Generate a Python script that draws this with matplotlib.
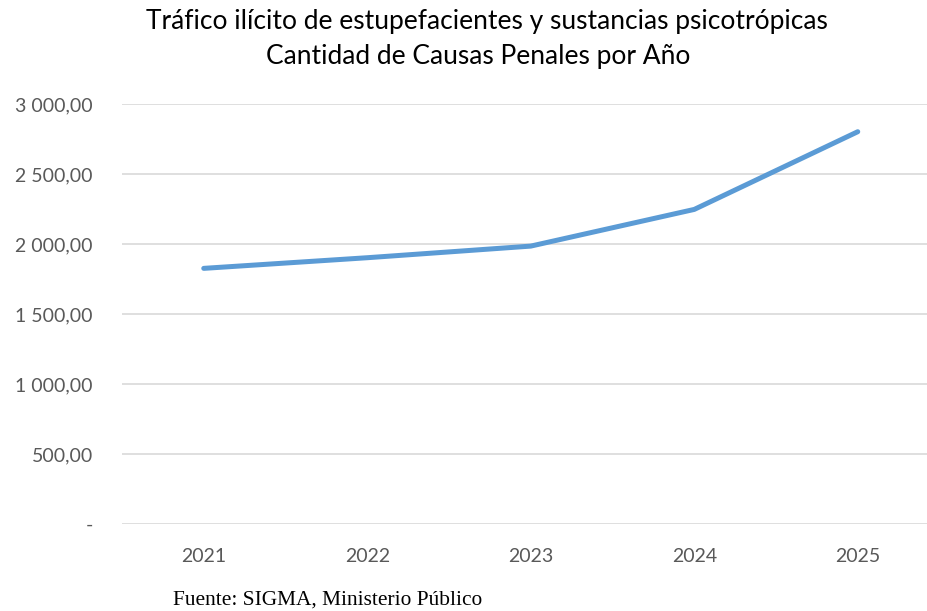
import matplotlib.pyplot as plt
from matplotlib.ticker import FuncFormatter

years = ["2021", "2022", "2023", "2024", "2025"]
causas = [1826, 1902, 1985, 2247, 2802]
y_ticks = [0, 500, 1000, 1500, 2000, 2500, 3000]

plt.rcParams['font.family'] = ['Lato', 'DejaVu Sans']

fig = plt.figure(figsize=(9.28, 6.11), dpi=100)
ax = fig.add_axes([122 / 928, 87 / 611, 806 / 928, 420 / 611])

x = list(range(len(years)))
ax.plot(x, causas, color="#5B9BD5", linewidth=3.6, solid_capstyle="round")

ax.set_xlim(-0.5, -0.5 + 806 / 163.5)
ax.set_ylim(0, 3000)
ax.set_yticks(y_ticks)


def fmt(v, pos):
    if v == 0:
        return "-"
    s = f"{v:,.2f}"
    return s.replace(",", " ").replace(".", ",")


ax.yaxis.set_major_formatter(FuncFormatter(fmt))
ax.set_xticks(x)
ax.set_xticklabels(years)

ax.grid(axis="y", color="#D9D9D9", linewidth=1.2)
ax.set_axisbelow(True)
for s in ax.spines.values():
    s.set_visible(False)
ax.tick_params(axis="both", length=0, labelsize=14, colors="#595959")
ax.tick_params(axis="y", pad=21)
ax.tick_params(axis="x", pad=17)

fig.text(487 / 928, 0.965, "Tráfico ilícito de estupefacientes y sustancias psicotrópicas",
         ha="center", va="center", fontsize=19, color="#000000")
fig.text(478 / 928, 0.908, "Cantidad de Causas Penales por Año",
         ha="center", va="center", fontsize=19, color="#000000")
fig.text(173 / 928, 1 - 600 / 611, "Fuente: SIGMA, Ministerio Público",
         ha="left", va="center", fontsize=15.4, family=["Liberation Serif"])

fig.savefig("out.png", dpi=100)
